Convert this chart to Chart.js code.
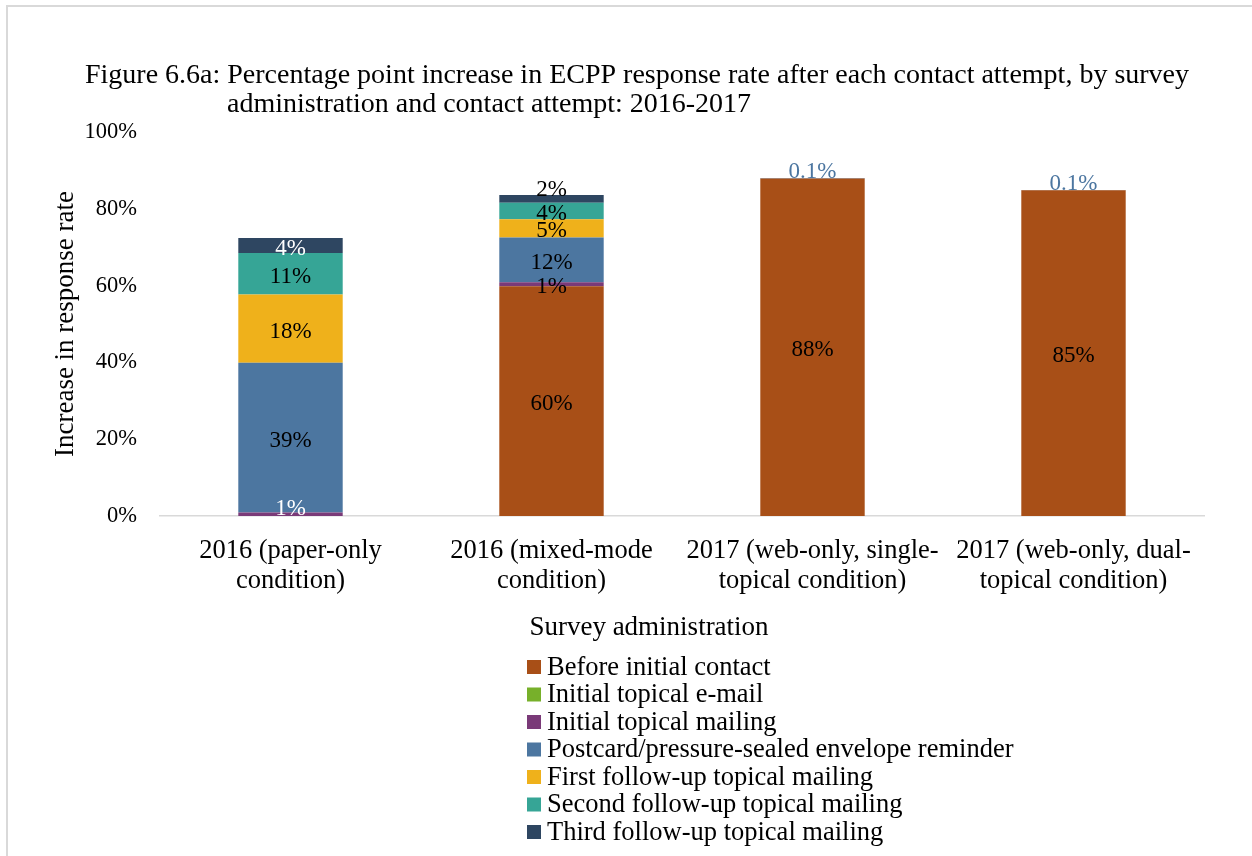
<!DOCTYPE html>
<html>
<head>
<meta charset="utf-8">
<script src="https://cdn.jsdelivr.net/npm/chart.js@4.4.1/dist/chart.umd.min.js"></script>
<style>
  body { margin: 0; background: #fff; overflow: hidden; }
  #moldura { position: absolute; left: 6px; top: 5px; width: 1400px; height: 1000px;
             border-top: 2px solid #d9d9d9; border-left: 2px solid #d9d9d9; }
  #grafico { position: absolute; left: 0; top: 0; }
</style>
</head>
<body>
<div id="moldura"></div>
<canvas id="grafico" width="1252" height="856"></canvas>
<script>
// dados (pontos percentuais)
const categorias = [
  ["2016 (paper-only", "condition)"],
  ["2016 (mixed-mode", "condition)"],
  ["2017 (web-only, single-", "topical condition)"],
  ["2017 (web-only, dual-", "topical condition)"]
];
const antesContato   = [0, 59.8, 87.9, 84.8];
const emailInicial   = [0, 0, 0, 0];
const cartaInicial   = [0.9, 1.1, 0, 0];
const lembrete       = [39.0, 11.6, 0.1, 0.1];
const primeiroFollow = [17.8, 4.8, 0, 0];
const segundoFollow  = [10.8, 4.3, 0, 0];
const terceiroFollow = [3.9, 2.0, 0, 0];
const ticksY = [0, 20, 40, 60, 80, 100];

const fonte = "'Liberation Serif', 'Times New Roman', serif";
Chart.defaults.font.family = fonte;
Chart.defaults.color = "#000";

// ajustes finos dos rótulos (cor / deslocamento) por série:barra
const ajusteRotulo = {
  "2:0": { cor: "#fff", dy: -8 },
  "6:0": { cor: "#fff", dy: 0 },
  "6:1": { cor: "#000", dy: -12 }
};

const rotulosPlugin = {
  id: "rotulos",
  afterDatasetsDraw(chart) {
    const ctx = chart.ctx;
    ctx.save();
    ctx.font = "23px " + fonte;
    ctx.textAlign = "center";
    chart.data.datasets.forEach((ds, i) => {
      const meta = chart.getDatasetMeta(i);
      meta.data.forEach((bar, j) => {
        const v = ds.data[j];
        if (!v) return;
        if (v < 0.5) {
          ctx.fillStyle = ds.backgroundColor;
          ctx.textBaseline = "alphabetic";
          ctx.fillText(v.toFixed(1) + "%", bar.x, bar.y);
          return;
        }
        const aj = ajusteRotulo[i + ":" + j] || {};
        ctx.fillStyle = aj.cor || "#000";
        ctx.textBaseline = "middle";
        const yc = (bar.y + bar.base) / 2 + 3 + (aj.dy || 0);
        ctx.fillText(Math.round(v) + "%", bar.x, yc);
      });
    });
    ctx.restore();
  }
};

// título em duas linhas, legenda em coluna e título do eixo x
const textosPlugin = {
  id: "textos",
  afterDraw(chart) {
    const ctx = chart.ctx;
    ctx.save();
    ctx.fillStyle = "#000";
    ctx.textBaseline = "middle";
    ctx.font = "28px " + fonte;
    ctx.textAlign = "center";
    ctx.fillText("Figure 6.6a: Percentage point increase in ECPP response rate after each contact attempt, by survey", 637, 76);
    ctx.textAlign = "left";
    ctx.fillText("administration and contact attempt: 2016-2017", 227, 105);

    ctx.font = "27px " + fonte;
    ctx.textAlign = "center";
    ctx.fillText("Survey administration", 649, 628);

    ctx.font = "26.5px " + fonte;
    ctx.textAlign = "left";
    chart.data.datasets.forEach((ds, i) => {
      const y = 667 + i * 27.5;
      ctx.fillStyle = ds.backgroundColor;
      ctx.fillRect(527, y - 7, 14, 14);
      ctx.fillStyle = "#000";
      ctx.fillText(ds.label, 547, y + 1);
    });
    ctx.restore();
  }
};

const ctx = document.getElementById("grafico").getContext("2d");
new Chart(ctx, {
  type: "bar",
  data: {
    labels: categorias,
    datasets: [
      { label: "Before initial contact", data: antesContato, backgroundColor: "#a84f17" },
      { label: "Initial topical e-mail", data: emailInicial, backgroundColor: "#77b02a" },
      { label: "Initial topical mailing", data: cartaInicial, backgroundColor: "#7a3a78" },
      { label: "Postcard/pressure-sealed envelope reminder", data: lembrete, backgroundColor: "#4c76a0" },
      { label: "First follow-up topical mailing", data: primeiroFollow, backgroundColor: "#efb11b" },
      { label: "Second follow-up topical mailing", data: segundoFollow, backgroundColor: "#36a596" },
      { label: "Third follow-up topical mailing", data: terceiroFollow, backgroundColor: "#2e4661" }
    ]
  },
  options: {
    responsive: false,
    animation: false,
    devicePixelRatio: 1,
    barPercentage: 0.4,
    categoryPercentage: 1,
    layout: { padding: { top: 132, left: 48, right: 48, bottom: 262 } },
    plugins: {
      legend: { display: false },
      tooltip: { enabled: false }
    },
    scales: {
      x: {
        stacked: true,
        grid: { display: false, drawTicks: false },
        border: { display: true, color: "#d9d9d9", width: 1.5 },
        ticks: { padding: 20, font: { size: 26.5, lineHeight: 1.132 }, maxRotation: 0, autoSkip: false },
        afterFit: s => { s.height = 78; }
      },
      y: {
        stacked: true,
        min: 0,
        max: 100,
        grid: { display: false, drawTicks: false },
        border: { display: false },
        afterBuildTicks: axis => { axis.ticks = ticksY.map(v => ({ value: v })); },
        ticks: { padding: 23, font: { size: 22.5 }, callback: v => v + "%" },
        title: {
          display: true,
          text: "Increase in response rate",
          font: { size: 27 },
          padding: { top: 2, bottom: 4 }
        },
        afterFit: s => { s.width = 112; }
      }
    }
  },
  plugins: [rotulosPlugin, textosPlugin]
});
</script>
</body>
</html>
